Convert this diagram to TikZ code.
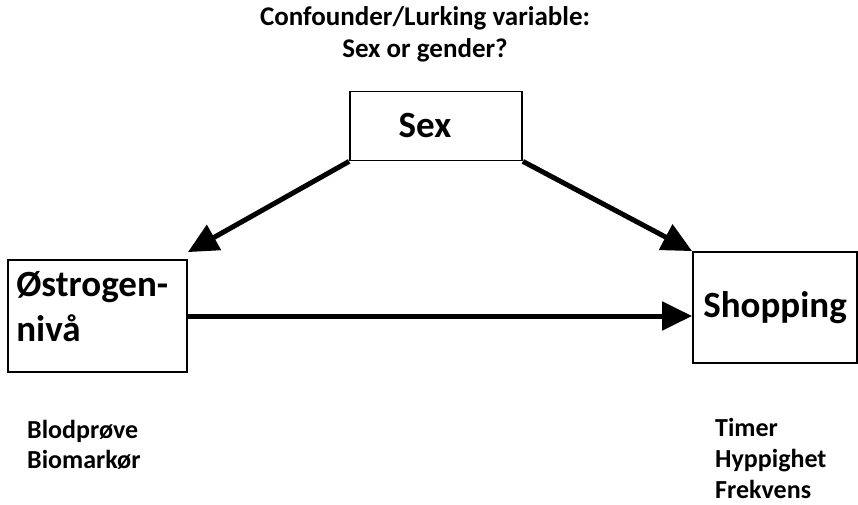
\documentclass[tikz,border=0pt]{standalone}
\usepackage{fontspec}
\setmainfont{Carlito}
\usepackage{tikz}
\usetikzlibrary{positioning,arrows.meta}
\tikzset{
  flow/.style={-{Triangle[length=30pt,width=28pt]}, line width=5pt, color=black},
  big/.style={font=\fontsize{37}{45}\selectfont\bfseries},
  var/.style={draw, line width=1.8pt, inner sep=8pt, big},
  lab/.style={font=\fontsize{26}{#1}\selectfont\bfseries, align=left, anchor=north west, inner sep=0pt},
  lab/.default=30,
}
\begin{document}
\begin{tikzpicture}[x=1pt,y=-1pt]
  \useasboundingbox (0,0) rectangle (858,505);
  \node[font=\fontsize{27}{32}\selectfont\bfseries, align=center] (title) at (425,34)
    {Confounder/Lurking variable:\\Sex or gender?};
  \node[var, minimum width=172pt, minimum height=69pt] (sex) at (436,126) {\hspace*{-22pt}Sex};
  \node[var, minimum width=179pt, minimum height=112pt] (ostrogen) at (97.5,316) {};
  \node[big, align=left, anchor=north west, inner sep=0pt] (ostrotxt)
    at ([xshift=9pt,yshift=-12pt]ostrogen.north west) {Østrogen-\\nivå};
  \node[var, minimum width=164pt, minimum height=111pt] (shopping) at (775,307.5) {Shopping};
  \draw[flow] (sex.south west) -- ([yshift=7pt]ostrogen.north east);
  \draw[flow] (sex.south east) -- (shopping.north west);
  \draw[flow] (ostrogen.east) -- (ostrogen.east -| shopping.west);
  \node[lab] (blod) at (27,420) {Blodprøve\\Biomarkør};
  \node[lab=31] (timer) at (715,418) {Timer\\Hyppighet\\Frekvens};
\end{tikzpicture}
\end{document}
